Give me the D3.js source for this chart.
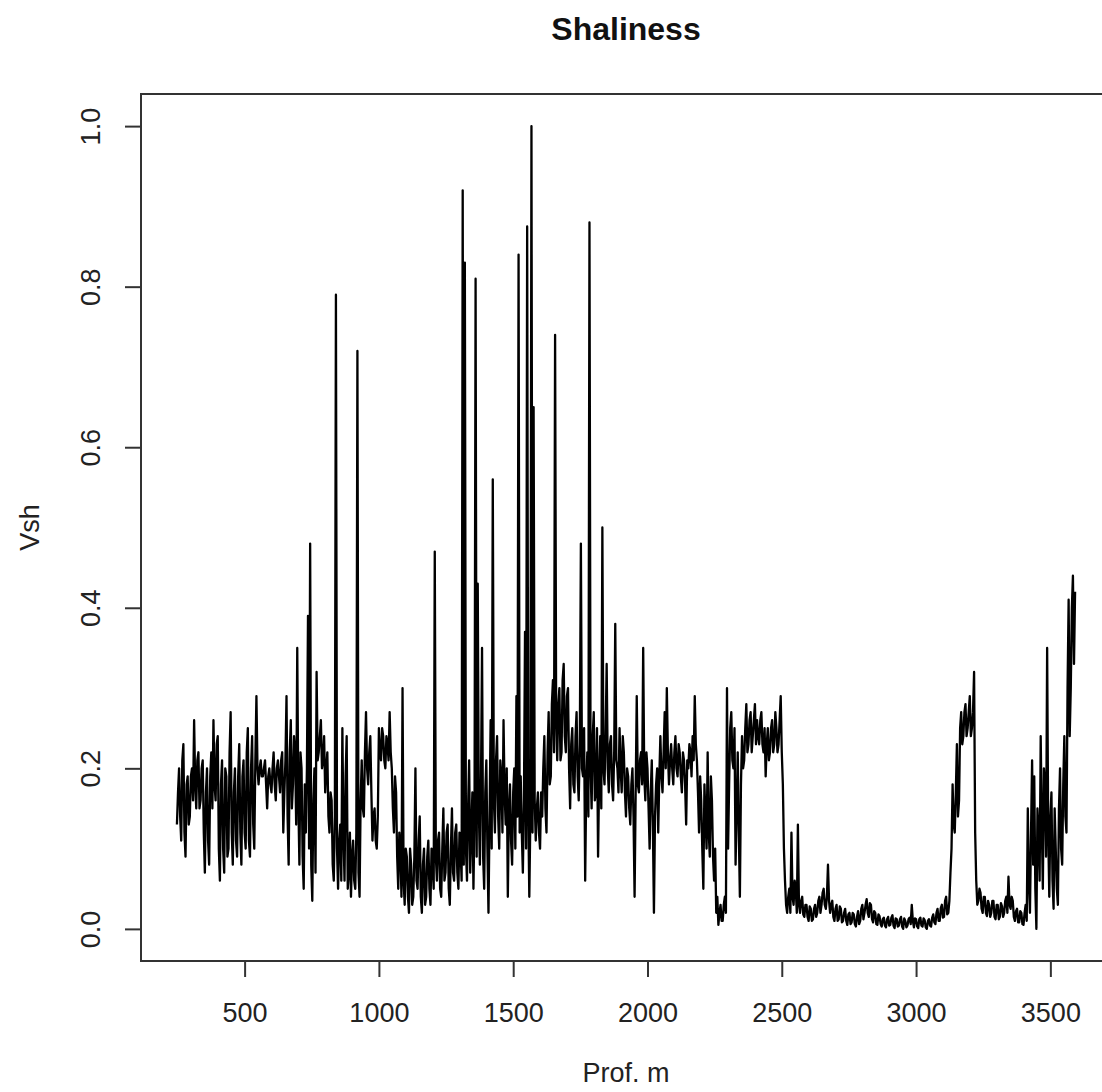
<!DOCTYPE html>
<html>
<head>
<meta charset="utf-8">
<script src="https://cdn.jsdelivr.net/npm/d3@7"></script>
<style>
  body { margin: 0; background: #fff; }
  text { font-family: "Liberation Sans", Arial, sans-serif; }
</style>
</head>
<body>
<div id="plot"></div>
<script>
// log sampling (m): vsh at depthTop + 8*i, vshMid half a step later
var depthTop  = 248;
var depthStep = 8;

// Vsh readings, one row per ~80 m
var vsh = [
  0.13, 0.20, 0.11, 0.23, 0.09, 0.19, 0.14, 0.20, 0.26, 0.15,
  0.22, 0.16, 0.21, 0.07, 0.20, 0.08, 0.22, 0.26, 0.16, 0.24,
  0.06, 0.21, 0.07, 0.19, 0.10, 0.27, 0.08, 0.20, 0.09, 0.23,
  0.08, 0.21, 0.10, 0.25, 0.09, 0.24, 0.10, 0.29, 0.18, 0.21,
  0.19, 0.21, 0.15, 0.20, 0.17, 0.22, 0.16, 0.21, 0.17, 0.22,
  0.17, 0.29, 0.08, 0.26, 0.18, 0.22, 0.35, 0.08, 0.20, 0.05,
  0.12, 0.39, 0.48, 0.035, 0.20, 0.32, 0.22, 0.26, 0.21, 0.17,
  0.22, 0.12, 0.16, 0.06, 0.79, 0.05, 0.13, 0.25, 0.06, 0.24,
  0.07, 0.04, 0.11, 0.05, 0.72, 0.04, 0.21, 0.14, 0.27, 0.18,
  0.24, 0.11, 0.15, 0.10, 0.25, 0.21, 0.24, 0.20, 0.23, 0.27,
  0.20, 0.12, 0.17, 0.05, 0.10, 0.30, 0.03, 0.09, 0.02, 0.08,
  0.04, 0.20, 0.05, 0.14, 0.02, 0.10, 0.04, 0.11, 0.03, 0.08,
  0.47, 0.06, 0.12, 0.04, 0.15, 0.07, 0.13, 0.03, 0.15, 0.06,
  0.13, 0.05, 0.10, 0.92, 0.83, 0.06, 0.21, 0.12, 0.05, 0.81,
  0.43, 0.08, 0.35, 0.05, 0.21, 0.02, 0.26, 0.56, 0.12, 0.24,
  0.10, 0.19, 0.26, 0.13, 0.04, 0.18, 0.08, 0.20, 0.29, 0.84,
  0.19, 0.07, 0.37, 0.875, 0.04, 1.0, 0.65, 0.11, 0.17, 0.10,
  0.14, 0.24, 0.12, 0.27, 0.19, 0.31, 0.74, 0.21, 0.30, 0.22,
  0.33, 0.22, 0.30, 0.15, 0.25, 0.17, 0.27, 0.16, 0.48, 0.19,
  0.06, 0.22, 0.88, 0.15, 0.27, 0.17, 0.09, 0.24, 0.50, 0.18,
  0.33, 0.17, 0.24, 0.16, 0.38, 0.20, 0.25, 0.17, 0.22, 0.14,
  0.19, 0.13, 0.20, 0.04, 0.29, 0.17, 0.22, 0.35, 0.16, 0.20,
  0.10, 0.21, 0.02, 0.18, 0.12, 0.24, 0.17, 0.27, 0.30, 0.18,
  0.23, 0.18, 0.24, 0.19, 0.22, 0.17, 0.21, 0.13, 0.20, 0.22,
  0.24, 0.29, 0.21, 0.12, 0.16, 0.05, 0.14, 0.22, 0.09, 0.16,
  0.06, 0.02, 0.005, 0.03, 0.01, 0.04, 0.30, 0.18, 0.27, 0.20,
  0.08, 0.22, 0.04, 0.24, 0.21, 0.28, 0.23, 0.27, 0.24, 0.28,
  0.26, 0.23, 0.27, 0.22, 0.19, 0.25, 0.22, 0.26, 0.23, 0.25,
  0.23, 0.29, 0.18, 0.06, 0.02, 0.05, 0.12, 0.03, 0.05, 0.13,
  0.02, 0.04, 0.015, 0.03, 0.01, 0.025, 0.012, 0.03, 0.02, 0.04,
  0.03, 0.05, 0.025, 0.08, 0.02, 0.035, 0.01, 0.03, 0.012, 0.025,
  0.01, 0.025, 0.005, 0.02, 0.008, 0.018, 0.003, 0.022, 0.01, 0.03,
  0.02, 0.037, 0.015, 0.03, 0.008, 0.02, 0.005, 0.016, 0.003, 0.014,
  0.002, 0.015, 0.005, 0.017, 0.001, 0.012, 0.004, 0.015, 0.0, 0.01,
  0.004, 0.014, 0.03, 0.002, 0.012, 0.001, 0.014, 0.003, 0.011, 0.0,
  0.012, 0.003, 0.018, 0.006, 0.025, 0.01, 0.03, 0.015, 0.04, 0.02,
  0.07, 0.18, 0.12, 0.23, 0.16, 0.27, 0.24, 0.28, 0.25, 0.29,
  0.25, 0.32, 0.06, 0.035, 0.045, 0.02, 0.04, 0.016, 0.03, 0.02,
  0.035, 0.012, 0.03, 0.015, 0.028, 0.02, 0.04, 0.065, 0.025, 0.035,
  0.01, 0.025, 0.008, 0.02, 0.005, 0.03, 0.15, 0.02, 0.21, 0.19,
  0.0, 0.12, 0.24, 0.05, 0.18, 0.35, 0.04, 0.17, 0.025, 0.10,
  0.03, 0.20, 0.08, 0.24, 0.12, 0.41, 0.30, 0.44, 0.42
];

// in-between readings (depthTop + 4 + 8*i)
var vshMid = [
  0.17, 0.14, 0.21, 0.12, 0.18, 0.13, 0.19, 0.16, 0.18, 0.21,
  0.15, 0.20, 0.12, 0.17, 0.11, 0.19, 0.15, 0.18, 0.23, 0.10,
  0.18, 0.10, 0.20, 0.09, 0.22, 0.12, 0.17, 0.11, 0.19, 0.12,
  0.19, 0.12, 0.22, 0.11, 0.20, 0.13, 0.21, 0.20, 0.20, 0.19,
  0.20, 0.18, 0.19, 0.18, 0.20, 0.18, 0.20, 0.19, 0.21, 0.12,
  0.21, 0.14, 0.22, 0.15, 0.24, 0.13, 0.16, 0.22, 0.09, 0.18,
  0.20, 0.10, 0.08, 0.16, 0.07, 0.21, 0.24, 0.20, 0.24, 0.20,
  0.14, 0.17, 0.08, 0.14, 0.10, 0.11, 0.06, 0.12, 0.19, 0.05,
  0.12, 0.09, 0.06, 0.12, 0.07, 0.16, 0.15, 0.22, 0.20, 0.22,
  0.17, 0.14, 0.11, 0.14, 0.22, 0.25, 0.21, 0.24, 0.21, 0.22,
  0.15, 0.19, 0.09, 0.12, 0.04, 0.06, 0.10, 0.04, 0.10, 0.03,
  0.09, 0.06, 0.11, 0.04, 0.08, 0.03, 0.09, 0.05, 0.10, 0.05,
  0.09, 0.11, 0.05, 0.10, 0.06, 0.12, 0.05, 0.10, 0.07, 0.12,
  0.07, 0.12, 0.06, 0.08, 0.10, 0.15, 0.07, 0.17, 0.14, 0.09,
  0.15, 0.18, 0.09, 0.17, 0.10, 0.14, 0.10, 0.16, 0.21, 0.14,
  0.21, 0.12, 0.17, 0.20, 0.15, 0.11, 0.17, 0.10, 0.14, 0.12,
  0.12, 0.16, 0.10, 0.15, 0.14, 0.12, 0.16, 0.15, 0.12, 0.17,
  0.20, 0.15, 0.22, 0.18, 0.28, 0.22, 0.26, 0.28, 0.21, 0.31,
  0.24, 0.29, 0.20, 0.23, 0.18, 0.24, 0.19, 0.23, 0.20, 0.25,
  0.18, 0.14, 0.20, 0.24, 0.16, 0.25, 0.19, 0.15, 0.20, 0.24,
  0.20, 0.23, 0.18, 0.22, 0.21, 0.17, 0.20, 0.24, 0.17, 0.20,
  0.15, 0.18, 0.14, 0.17, 0.18, 0.21, 0.18, 0.19, 0.22, 0.15,
  0.17, 0.13, 0.14, 0.20, 0.19, 0.19, 0.22, 0.20, 0.22, 0.21,
  0.20, 0.22, 0.20, 0.23, 0.19, 0.22, 0.18, 0.21, 0.23, 0.19,
  0.21, 0.23, 0.17, 0.19, 0.10, 0.18, 0.10, 0.12, 0.19, 0.09,
  0.10, 0.04, 0.02, 0.01, 0.03, 0.02, 0.10, 0.25, 0.21, 0.25,
  0.15, 0.12, 0.18, 0.20, 0.25, 0.22, 0.26, 0.22, 0.26, 0.23,
  0.24, 0.26, 0.23, 0.25, 0.23, 0.21, 0.25, 0.22, 0.27, 0.22,
  0.26, 0.22, 0.10, 0.03, 0.04, 0.02, 0.04, 0.06, 0.02, 0.03,
  0.035, 0.018, 0.03, 0.015, 0.028, 0.01, 0.025, 0.015, 0.035, 0.02,
  0.045, 0.03, 0.04, 0.035, 0.03, 0.015, 0.025, 0.01, 0.028, 0.008,
  0.02, 0.01, 0.018, 0.006, 0.02, 0.006, 0.015, 0.006, 0.025, 0.012,
  0.03, 0.02, 0.032, 0.012, 0.022, 0.006, 0.018, 0.006, 0.012, 0.004,
  0.012, 0.004, 0.014, 0.004, 0.013, 0.003, 0.012, 0.003, 0.013, 0.002,
  0.012, 0.006, 0.01, 0.013, 0.003, 0.012, 0.004, 0.013, 0.002, 0.01,
  0.004, 0.014, 0.008, 0.02, 0.01, 0.026, 0.014, 0.035, 0.018, 0.035,
  0.10, 0.13, 0.17, 0.14, 0.25, 0.23, 0.27, 0.24, 0.27, 0.24,
  0.27, 0.12, 0.03, 0.05, 0.025, 0.04, 0.02, 0.035, 0.015, 0.035,
  0.015, 0.03, 0.012, 0.032, 0.015, 0.035, 0.02, 0.03, 0.04, 0.015,
  0.022, 0.008, 0.022, 0.006, 0.02, 0.01, 0.06, 0.12, 0.08, 0.05,
  0.15, 0.06, 0.13, 0.20, 0.09, 0.12, 0.14, 0.06, 0.15, 0.05,
  0.15, 0.10, 0.18, 0.14, 0.30, 0.24, 0.40, 0.33
];

var xTicks = [500, 1000, 1500, 2000, 2500, 3000, 3500];
var yTicks = [0, 0.2, 0.4, 0.6, 0.8, 1.0];

var titleText = "Shaliness";
var xLabel = "Prof. m";
var yLabel = "Vsh";

function drawPlot() {
	// Style setting
	var width  = 1102;
	var height = 1092;
	var pLeft = 141, pRight = 1111, pTop = 94, pBottom = 961;
	var ink = "#000";
	var axis_color = "#333";
	var tick_len = 16;

	var points = [];
	vsh.forEach(function(v, i) {
		points.push({ depth: depthTop + i * depthStep, v: v });
		if (i < vshMid.length) points.push({ depth: depthTop + (i + 0.5) * depthStep, v: vshMid[i] });
	});

	// R style 4% padding
	var xr = d3.extent(points, function(d) { return d.depth; });
	var yr = d3.extent(points, function(d) { return d.v; });
	var xpad = (xr[1] - xr[0]) * 0.04, ypad = (yr[1] - yr[0]) * 0.04;

	var x = d3.scaleLinear().domain([xr[0] - xpad, xr[1] + xpad]).range([pLeft, pRight]);
	var y = d3.scaleLinear().domain([yr[0] - ypad, yr[1] + ypad]).range([pBottom, pTop]);

	var svg = d3.select("#plot").append("svg")
	            .attr("width", width)
	            .attr("height", height);

	svg.append("rect")
	   .attr("width", width).attr("height", height)
	   .attr("fill", "#fff");

	svg.append("path")
	   .datum(points)
	   .attr("fill", "none")
	   .attr("stroke", ink)
	   .attr("stroke-width", 2.3)
	   .attr("stroke-linejoin", "round")
	   .attr("d", d3.line()
	                .x(function(d) { return x(d.depth); })
	                .y(function(d) { return y(d.v); }));

	// plot box
	svg.append("rect")
	   .attr("x", pLeft).attr("y", pTop)
	   .attr("width", pRight - pLeft).attr("height", pBottom - pTop)
	   .attr("fill", "none")
	   .attr("stroke", axis_color)
	   .attr("stroke-width", 2);

	var xAxis = svg.append("g")
	               .attr("transform", "translate(0," + pBottom + ")")
	               .call(d3.axisBottom(x).tickValues(xTicks).tickFormat(d3.format("d"))
	                       .tickSize(tick_len).tickSizeOuter(0));
	xAxis.select(".domain").remove();
	xAxis.selectAll("line").attr("stroke", axis_color).attr("stroke-width", 2);
	xAxis.selectAll("text")
	     .attr("y", 52).attr("dy", "0.35em")
	     .attr("fill", "#222")
	     .style("font-size", "27px");

	var yAxis = svg.append("g")
	               .attr("transform", "translate(" + pLeft + ",0)")
	               .call(d3.axisLeft(y).tickValues(yTicks).tickFormat(d3.format(".1f"))
	                       .tickSize(tick_len).tickSizeOuter(0));
	yAxis.select(".domain").remove();
	yAxis.selectAll("line").attr("stroke", axis_color).attr("stroke-width", 2);
	yAxis.selectAll("text")
	     .attr("transform", "rotate(-90)")
	     .attr("x", 0).attr("y", -50).attr("dy", "0.35em")
	     .attr("text-anchor", "middle")
	     .attr("fill", "#222")
	     .style("font-size", "27px");

	svg.append("text")
	   .attr("x", (pLeft + pRight) / 2).attr("y", 40)
	   .attr("text-anchor", "middle")
	   .style("font-size", "32px").style("font-weight", "bold")
	   .attr("fill", "#111")
	   .text(titleText);

	svg.append("text")
	   .attr("x", (pLeft + pRight) / 2).attr("y", 1073).attr("dy", "0.35em")
	   .attr("text-anchor", "middle")
	   .style("font-size", "27px")
	   .attr("fill", "#222")
	   .text(xLabel);

	svg.append("text")
	   .attr("transform", "translate(30," + (pTop + pBottom) / 2 + ") rotate(-90)")
	   .attr("dy", "0.35em")
	   .attr("text-anchor", "middle")
	   .style("font-size", "27px")
	   .attr("fill", "#222")
	   .text(yLabel);
}

drawPlot();
</script>
</body>
</html>
